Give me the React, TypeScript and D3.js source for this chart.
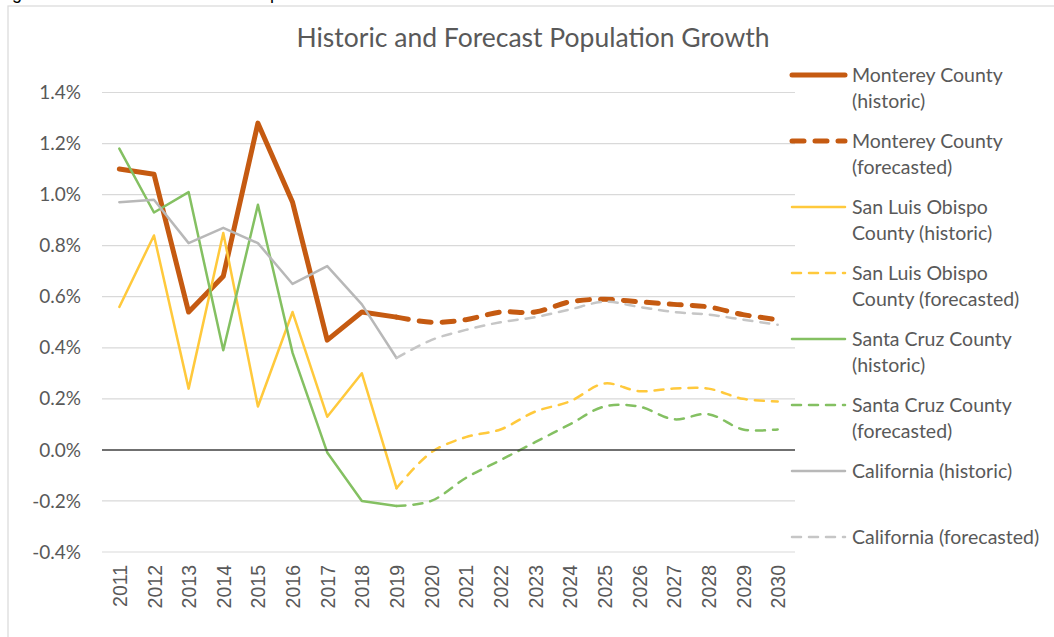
import React from "react";
import * as d3 from "d3";

const years = ["2011","2012","2013","2014","2015","2016","2017","2018","2019","2020",
  "2021","2022","2023","2024","2025","2026","2027","2028","2029","2030"];
const histYears = years.slice(0, 9);
const foreYears = years.slice(8);

// percent values
const montereyHist = [1.10, 1.08, 0.54, 0.68, 1.28, 0.97, 0.43, 0.54, 0.52];
const montereyFore = [0.52, 0.50, 0.51, 0.54, 0.54, 0.58, 0.59, 0.58, 0.57, 0.56, 0.53, 0.51];
const sloHist = [0.56, 0.84, 0.24, 0.85, 0.17, 0.54, 0.13, 0.30, -0.15];
const sloFore = [-0.15, -0.01, 0.05, 0.08, 0.15, 0.19, 0.26, 0.23, 0.24, 0.24, 0.20, 0.19];
const santaCruzHist = [1.18, 0.93, 1.01, 0.39, 0.96, 0.38, -0.01, -0.20, -0.22];
const santaCruzFore = [-0.22, -0.20, -0.11, -0.04, 0.03, 0.10, 0.17, 0.17, 0.12, 0.14, 0.08, 0.08];
const californiaHist = [0.97, 0.98, 0.81, 0.87, 0.81, 0.65, 0.72, 0.57, 0.36];
const californiaFore = [0.36, 0.43, 0.47, 0.50, 0.52, 0.55, 0.58, 0.56, 0.54, 0.53, 0.51, 0.49];

const yTicks = [-0.4, -0.2, 0, 0.2, 0.4, 0.6, 0.8, 1.0, 1.2, 1.4];

type Series = {
  label: string[];
  hist: boolean;
  values: number[];
  color: string;
  width: number;
  dash: string | null;
};

const series: Series[] = [
  {label: ["Monterey County", "(historic)"], hist: true, values: montereyHist, color: "#C55A11", width: 5, dash: null},
  {label: ["Monterey County", "(forecasted)"], hist: false, values: montereyFore, color: "#C55A11", width: 5, dash: "12 11"},
  {label: ["San Luis Obispo", "County (historic)"], hist: true, values: sloHist, color: "#FFC93C", width: 2.5, dash: null},
  {label: ["San Luis Obispo", "County (forecasted)"], hist: false, values: sloFore, color: "#FFC93C", width: 2.5, dash: "9 8"},
  {label: ["Santa Cruz County", "(historic)"], hist: true, values: santaCruzHist, color: "#84C062", width: 2.5, dash: null},
  {label: ["Santa Cruz County", "(forecasted)"], hist: false, values: santaCruzFore, color: "#84C062", width: 2.5, dash: "9 8"},
  {label: ["California (historic)"], hist: true, values: californiaHist, color: "#B8B8B8", width: 2.5, dash: null},
  {label: ["California (forecasted)"], hist: false, values: californiaFore, color: "#C6C6C6", width: 2.5, dash: "9 8"},
];

const W = 1054;
const H = 637;
const plot = {left: 102, right: 795, top: 92.5, bottom: 552};
const textFont = "Lato, 'Open Sans', sans-serif";
const axisFont = "'Liberation Sans', Arial, sans-serif";

const pct = (t: number) => d3.format(".1f")(t).replace("\u2212", "-") + "%";

export default function App() {
  const x = d3.scaleBand<string>().domain(years).range([plot.left, plot.right]);
  const y = d3.scaleLinear().domain([-0.4, 1.4]).range([plot.bottom, plot.top]);
  const cx = (yr: string) => (x(yr) as number) + x.bandwidth() / 2;

  const histLine = d3.line<number>()
    .x((d, i) => cx(histYears[i]))
    .y(d => y(d));
  const foreLine = d3.line<number>()
    .x((d, i) => cx(foreYears[i]))
    .y(d => y(d))
    .curve(d3.curveCatmullRom.alpha(0.5));

  const legendX0 = 792;
  const legendX1 = 845;
  const legendText = 852;

  return (
    <svg width={W} height={H} style={{position: "absolute", left: 0, top: 0, background: "#fff"}}>
      <text x={-3} y={-1.5} fontFamily={axisFont} fontSize={18} fill="#000">
        Figure 4: Historic and Forecast Population Growth
      </text>
      <rect x={8} y={6} width={W} height={H} fill="none" stroke="#D9D9D9" strokeWidth={1.2} />

      <text x={533} y={47} textAnchor="middle" fontFamily={textFont} fontSize={26.5} fill="#595959">
        Historic and Forecast Population Growth
      </text>

      {yTicks.map(t => (
        <g key={t}>
          {t !== 0 && (
            <line x1={plot.left} x2={plot.right} y1={y(t)} y2={y(t)} stroke="#D9D9D9" strokeWidth={1.2} />
          )}
          <text x={81} y={y(t)} dy="0.35em" textAnchor="end" fontFamily={textFont} fontSize={19} fill="#595959">
            {pct(t)}
          </text>
        </g>
      ))}

      {years.map(yr => (
        <text key={yr} transform={`translate(${cx(yr) + 0.5}, 565) rotate(-90)`} dy="0.36em" textAnchor="end"
          fontFamily={axisFont} fontSize={19.5} fill="#595959">
          {yr}
        </text>
      ))}

      {series.map((s, i) => (
        <path key={i} d={(s.hist ? histLine : foreLine)(s.values) || ""} fill="none" stroke={s.color}
          strokeWidth={s.width} strokeDasharray={s.dash || undefined}
          strokeLinecap="round" strokeLinejoin="round" />
      ))}

      <line x1={plot.left} x2={plot.right} y1={y(0)} y2={y(0)} stroke="#404040" strokeWidth={1.5} />

      {series.map((s, i) => {
        const ly = 75 + i * 66;
        return (
          <g key={i}>
            <line x1={legendX0} x2={legendX1} y1={ly} y2={ly} stroke={s.color} strokeWidth={s.width}
              strokeDasharray={s.dash || undefined} strokeLinecap="round" />
            {s.label.map((l, j) => (
              <text key={j} x={legendText} y={ly + j * 26.5} dy="0.35em" fontFamily={textFont}
                fontSize={19.5} fill="#595959">
                {l}
              </text>
            ))}
          </g>
        );
      })}
    </svg>
  );
}
